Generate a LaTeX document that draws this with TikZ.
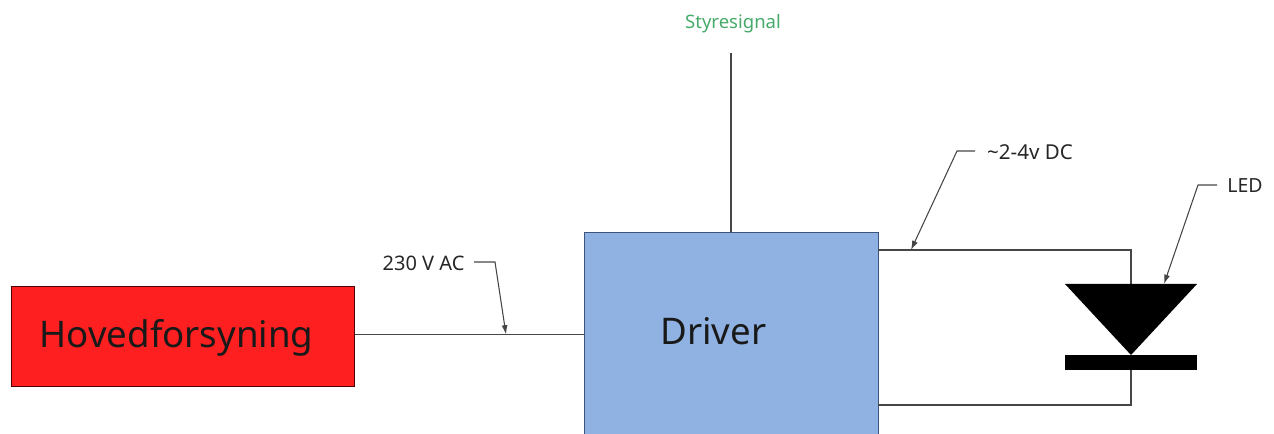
\documentclass[tikz,border=0pt]{standalone}
\usepackage{fontspec}
\setmainfont{Noto Sans}
\usetikzlibrary{arrows.meta,shapes.geometric}
\definecolor{redbox}{RGB}{254,32,32}
\definecolor{bluebox}{RGB}{143,178,226}
\definecolor{edgeblue}{RGB}{60,85,125}
\definecolor{siggreen}{RGB}{70,170,105}
\definecolor{wire}{RGB}{70,70,70}
\tikzset{
  px/.style={x=0.75pt,y=-0.75pt},
  blockbox/.style={draw=#1,line width=0.8pt,minimum height=0pt,inner sep=0pt,anchor=north west},
  wireline/.style={draw=wire,line width=0.85pt},
  leader/.style={draw=wire,line width=0.8pt,-{Latex[length=7pt,width=4.5pt]}},
  smalltxt/.style={font=\fontsize{#1pt}{15pt}\selectfont,text=black!85,inner sep=0pt},
  bigtxt/.style={font=\fontsize{27.5pt}{32pt}\selectfont,text=black!90,inner sep=0pt},
  ledpart/.style={fill=black,draw=none}
}
\begin{document}
\begin{tikzpicture}[px]
\useasboundingbox (0,0) rectangle (1274,434);
\clip (0,0) rectangle (1274,434);
\node[blockbox=black!70!red,fill=redbox,minimum width=257.25pt,minimum height=75pt] (hoved) at (11,286) {};
\node[blockbox=edgeblue,fill=bluebox,minimum width=220.5pt,minimum height=160pt] (driver) at (584,232) {};
\node[bigtxt] (hovedtxt) at (176.5,337.5) {Hovedforsyning};
\node[bigtxt] (drivertxt) at (713.5,331.5) {Driver};
\node[smalltxt=13.9,text=siggreen] (sig) at (733,24) {Styresignal};
\node[smalltxt=15] (ac) at (423.5,263) {230 V AC};
\node[smalltxt=15.4] (dc) at (1030,152) {\textasciitilde 2-4v DC};
\node[smalltxt=14.6] (ledl) at (1245,186) {LED};
% coordinates
\coordinate (sigtop) at (731,53);
\coordinate (sigbot) at (731,232);
\coordinate (acL) at (355,334.5);
\coordinate (acR) at (584,334.5);
\coordinate (acTip) at (506,334.5);
\coordinate (acB) at (495,262);
\coordinate (acS) at (474,262);
\coordinate (dL) at (878,250);
\coordinate (dC) at (1131,250);
\coordinate (botL) at (878,405);
\coordinate (botC) at (1131,405);
\coordinate (dcS) at (975,151);
\coordinate (dcB) at (957,151);
\coordinate (dcTip) at (911,250);
\coordinate (ledS) at (1217,185);
\coordinate (ledB) at (1198,185);
\coordinate (ledTip) at (1164,284);
\coordinate (triL) at (1065,284);
\coordinate (triR) at (1197,284);
\coordinate (triB) at (1131,355);
\coordinate (triT) at (1131,284);
\coordinate (barB) at (1131,370);
% wires
\draw[wireline] (sigtop) -- (sigbot);
\draw[wireline] (acL) -- (acR);
\draw[wireline] (dL) -- (dC) -- (triT);
\draw[wireline] (botL) -- (botC) -- (barB);
% LED
\fill[ledpart] (triL) -- (triR) -- (triB) -- cycle;
\fill[ledpart] (1065,355) rectangle (1197,370.5);
% leaders
\draw[leader] (acS) -- (acB) -- (acTip);
\draw[leader] (dcS) -- (dcB) -- (dcTip);
\draw[leader] (ledS) -- (ledB) -- (ledTip);
\end{tikzpicture}
\end{document}
